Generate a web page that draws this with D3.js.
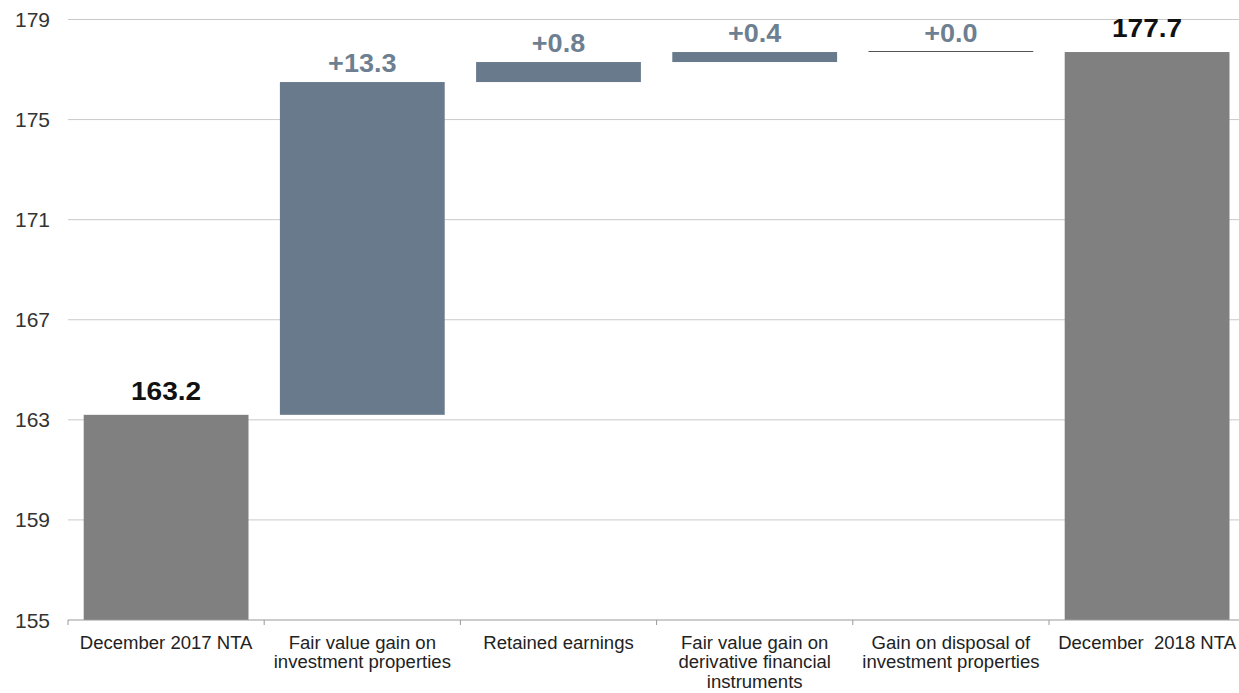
<!DOCTYPE html>
<html>
<head>
<meta charset="utf-8">
<script src="https://cdn.jsdelivr.net/npm/d3@7"></script>
<style>
  html, body { margin: 0; padding: 0; background: #fff; }
  svg { display: block; }
  text { font-family: "Liberation Sans", Arial, sans-serif; }
</style>
</head>
<body>
<svg id="chart" width="1239" height="693"></svg>
<script>
const categories = [
  "December 2017 NTA",
  "Fair value gain on\ninvestment properties",
  "Retained earnings",
  "Fair value gain on\nderivative financial\ninstruments",
  "Gain on disposal of\ninvestment properties",
  "December  2018 NTA"
];
const values = [163.2, 13.3, 0.8, 0.4, 0.0, 177.7];
const kinds = ["total", "delta", "delta", "delta", "delta", "total"];
const valueLabels = ["163.2", "+13.3", "+0.8", "+0.4", "+0.0", "177.7"];
const yTicks = [155, 159, 163, 167, 171, 175, 179];

const svg = d3.select("#chart");
const plotLeft = 68, plotRight = 1245.2, plotTop = 19.5, plotBottom = 620;

const x = d3.scaleBand().domain(categories).range([plotLeft, plotRight]).paddingInner(0.16).paddingOuter(0.08);
const y = d3.scaleLinear().domain([155, 179]).range([plotBottom, plotTop]);

// waterfall geometry
let running = 0;
const rows = categories.map((c, i) => {
  let lo, hi;
  if (kinds[i] === "total") { lo = 155; hi = values[i]; running = values[i]; }
  else { lo = running; hi = running + values[i]; running = hi; }
  return { c, v: values[i], kind: kinds[i], lo, hi, label: valueLabels[i] };
});

// gridlines
svg.append("g").selectAll("line").data(yTicks.filter(t => t !== 155)).join("line")
  .attr("x1", plotLeft).attr("x2", 1239)
  .attr("y1", d => y(d)).attr("y2", d => y(d))
  .attr("stroke", "#c9c9c9").attr("stroke-width", 1);

// y tick labels
svg.append("g").selectAll("text").data(yTicks).join("text")
  .attr("x", 50).attr("y", d => y(d)).attr("dy", "0.36em")
  .attr("text-anchor", "end").attr("font-size", 21).attr("fill", "#333")
  .text(d => d);

// bars
svg.append("g").selectAll("rect").data(rows.filter(r => r.v !== 0)).join("rect")
  .attr("x", d => x(d.c)).attr("width", x.bandwidth())
  .attr("y", d => y(d.hi)).attr("height", d => y(d.lo) - y(d.hi))
  .attr("fill", d => d.kind === "total" ? "#808080" : "#687a8c");

// zero delta line
svg.append("g").selectAll("line").data(rows.filter(r => r.v === 0)).join("line")
  .attr("x1", d => x(d.c)).attr("x2", d => x(d.c) + x.bandwidth())
  .attr("y1", d => Math.round(y(d.hi)) - 0.5).attr("y2", d => Math.round(y(d.hi)) - 0.5)
  .attr("stroke", "#555").attr("stroke-width", 1);

// value labels
svg.append("g").selectAll("text").data(rows).join("text")
  .attr("transform", d => `translate(${x(d.c) + x.bandwidth() / 2},${y(d.hi) - (d.kind === "total" ? 15 : 10)}) scale(1.06,1)`)
  .attr("text-anchor", "middle")
  .attr("font-weight", "bold")
  .attr("font-size", d => d.kind === "total" ? 26.5 : 25.5)
  .attr("fill", d => d.kind === "total" ? "#111" : "#6d7f91")
  .text(d => d.label);

// x axis line
svg.append("line").attr("x1", plotLeft).attr("x2", 1239)
  .attr("y1", plotBottom).attr("y2", plotBottom)
  .attr("stroke", "#999").attr("stroke-width", 1.2);

// tick marks at category boundaries
const step = x.step();
const bounds = d3.range(categories.length).map(i => x(categories[i]) - (step - x.bandwidth()) / 2);
svg.append("g").selectAll("line").data(bounds).join("line")
  .attr("x1", d => d).attr("x2", d => d)
  .attr("y1", plotBottom).attr("y2", plotBottom + 5)
  .attr("stroke", "#999").attr("stroke-width", 1);

// category labels
const lab = svg.append("g").selectAll("text").data(categories).join("text")
  .attr("text-anchor", "middle").attr("font-size", 17.5).attr("fill", "#222")
  .style("white-space", "pre")
  .attr("transform", d => `translate(${x(d) + x.bandwidth() / 2},649) scale(1.06,1)`);
lab.selectAll("tspan").data(d => d.split("\n")).join("tspan")
  .attr("x", 0).attr("y", (d, i) => i * 19.5)
  .text(d => d);
</script>
</body>
</html>
